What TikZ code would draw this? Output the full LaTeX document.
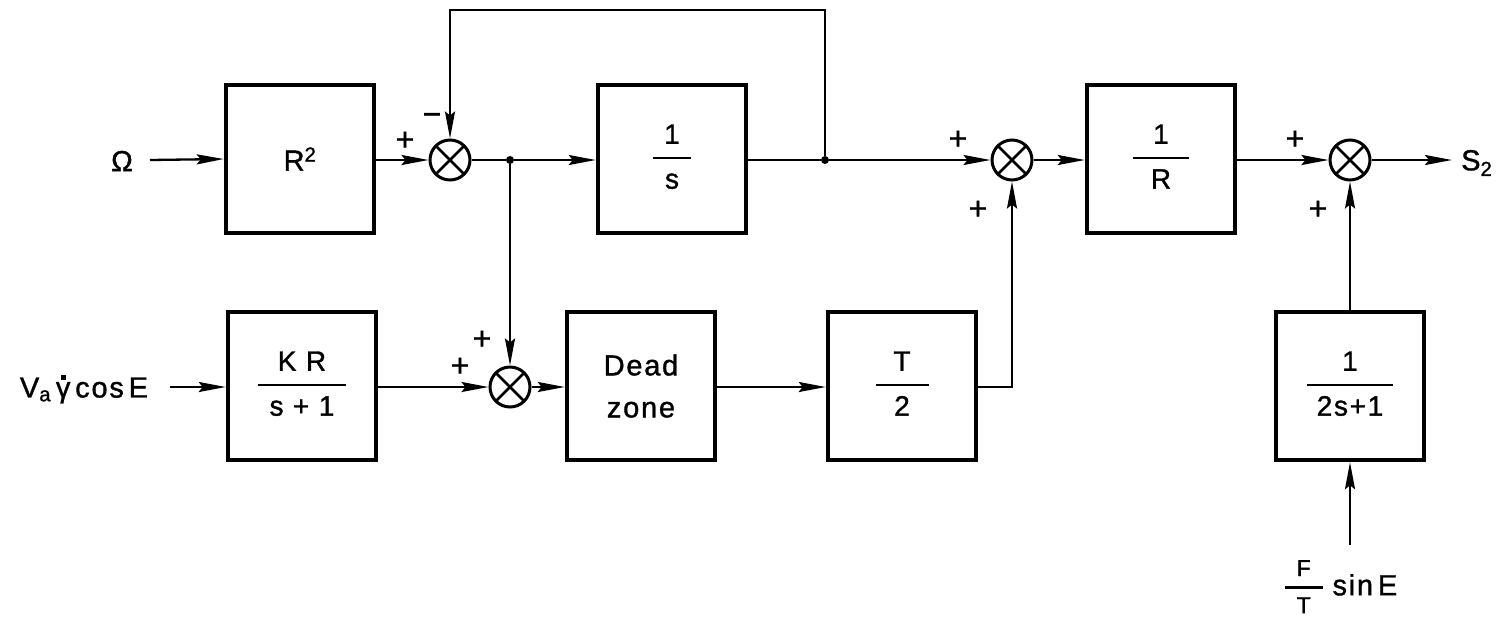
\documentclass[tikz,border=0pt]{standalone}
\usepackage{fontspec}
\setmainfont{Liberation Sans}[LetterSpace=6, FakeBold=1.2]
\usetikzlibrary{arrows.meta}
\setlength{\arrayrulewidth}{2.6pt}
\newcommand{\fr}[3]{\begin{tabular}{@{}c@{}}\makebox[#1]{#2}\\[2pt]\hline\rule{0pt}{1.05em}#3\end{tabular}}
\newcommand{\gdot}{\makebox[0pt][l]{\hspace{0.17em}\raisebox{0.62em}{\rule{5pt}{5pt}}}γ}
\begin{document}
\begin{tikzpicture}[x=1pt,y=-1pt,
  font=\fontsize{29}{40}\selectfont,
  blk/.style={draw, line width=4.5pt, minimum width=148pt, minimum height=148pt, inner sep=0pt, align=center},
  frc/.style={font=\fontsize{28}{36}\selectfont},
  sumnode/.style={circle, draw, line width=3pt, minimum size=40pt, inner sep=0pt,
    path picture={\draw[line width=2.6pt] (path picture bounding box.north west) -- (path picture bounding box.south east)
      (path picture bounding box.north east) -- (path picture bounding box.south west);}},
  con/.style={line width=2.3pt},
  arr/.style={con, -{Stealth[length=27pt,width=10pt,inset=4pt]}},
  jdot/.style={circle, fill, inner sep=0pt, minimum size=8pt},
  lbl/.style={inner sep=0pt},
  sig/.style={inner sep=0pt, font=\fontsize{32}{34}\selectfont}
]
\useasboundingbox (0,0) rectangle (1499,625);

% blocks
\node[blk] (r2) at (300,159) {R\textsuperscript{2}};
\node[blk, frc] (is) at (672,159) {\fr{38pt}{1}{s}};
\node[blk, frc] (ir) at (1161,159) {\fr{56pt}{1}{R}};
\node[blk, frc] (kr) at (302,386) {\fr{88pt}{K R}{s + 1}};
\node[blk, font=\fontsize{29}{42}\selectfont] (dz) at (641,386) {Dead\\zone};
\node[blk, frc] (t2) at (902,386) {\fr{53pt}{T}{2}};
\node[blk, frc] (b6) at (1350,386) {\fr{86pt}{1}{2s+1}};

% summing junctions
\node[sumnode] (s1) at (450,160) {};
\node[sumnode] (s2) at (1012,160) {};
\node[sumnode] (s3) at (1350,160) {};
\node[sumnode] (s4) at (510,387) {};

% branch points
\node[jdot] (j1) at (510,160) {};
\node[jdot] (j2) at (825,160) {};
\coordinate (c1) at (825,10);
\coordinate (c2) at (450,10);

% inputs / outputs
\node[lbl] (om) at (122,161) {Ω};
\coordinate (omo) at (150,160);
\node[lbl] (va) at (84,389) {V\textsubscript{a}\,\gdot\,cos\,E};
\coordinate (vao) at (170,387);
\node[lbl, anchor=west] (so) at (1461,163) {S\textsubscript{2}};
\coordinate (soi) at (1452,160);
\node[lbl] (ft) at (1341,589) {{\fontsize{23}{28}\selectfont\fr{38pt}{F}{T}}\ sin\,E};
\coordinate (fto) at (1350,545);

% connectors
\draw[arr] (omo) -- (r2.west);
\draw[arr] (r2.east |- s1) -- (s1.west);
\draw[con] (s1.east) -- (j1);
\draw[arr] (j1) -- (is.west |- j1);
\draw[con] (is.east |- j2) -- (j2);
\draw[arr] (j2) -- (s2.west);
\draw[arr] (j2) -- (c1) -- (c2) -- (s1.north);
\draw[arr] (s2.east) -- (ir.west |- s2);
\draw[arr] (ir.east |- s3) -- (s3.west);
\draw[arr] (s3.east) -- (soi);
\draw[arr] (j1) -- (s4.north);
\draw[arr] (vao) -- (kr.west |- vao);
\draw[arr] (kr.east |- s4) -- (s4.west);
\draw[arr] (s4.east) -- (dz.west |- s4);
\draw[arr] (dz.east |- s4) -- (t2.west |- s4);
\draw[arr] (t2.east |- s4) -| (s2.south);
\draw[arr] (b6.north) -- (s3.south);
\draw[arr] (fto) -- (b6.south);

% signs
\node[sig] (p1) at (405,141) {+};
\node[sig] (m1) at (432,119) {−};
\node[sig] (p2) at (958,140) {+};
\node[sig] (p3) at (978,210) {+};
\node[sig] (p4) at (1295,140) {+};
\node[sig] (p5) at (1318,210) {+};
\node[sig] (p6) at (460,367) {+};
\node[sig] (p7) at (482,340) {+};
\end{tikzpicture}
\end{document}
